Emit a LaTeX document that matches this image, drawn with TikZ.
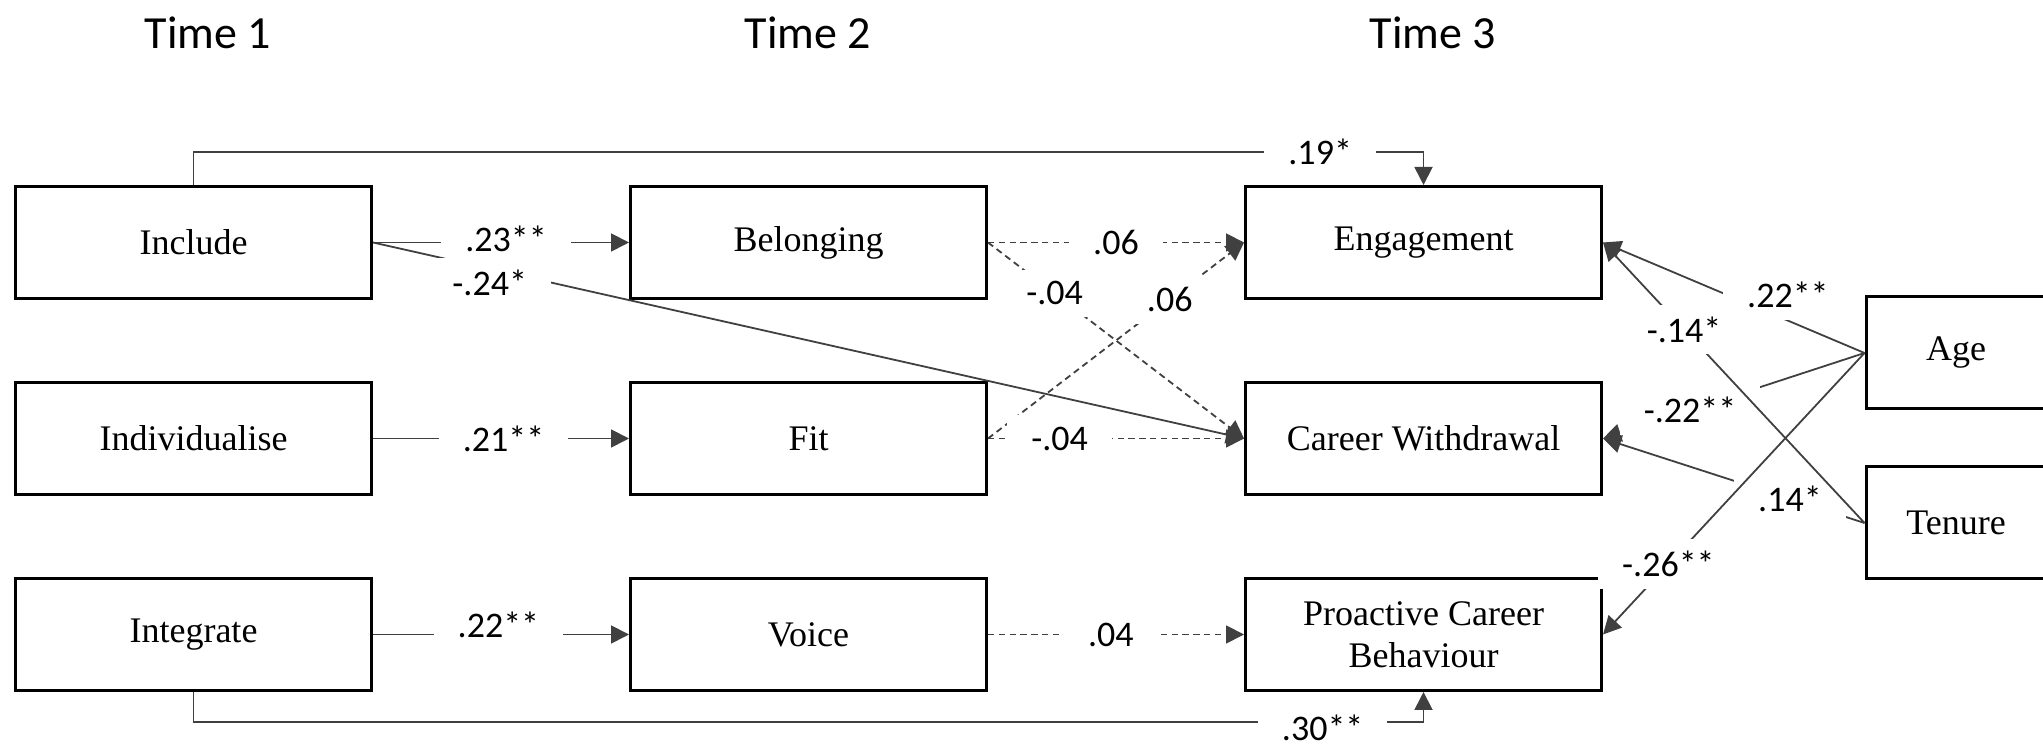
\documentclass[tikz,border=0pt]{standalone}
\usepackage{fontspec}
\setmainfont{Liberation Serif}
\newfontfamily\lblfont{Carlito}
\usetikzlibrary{arrows.meta}

\begin{document}
\begin{tikzpicture}[x=0.25pt,y=-0.25pt,>={Triangle[length=4.5pt,width=4.5pt]},node distance=153.75pt,
  var/.style={draw,line width=0.75pt,minimum width=89pt,minimum height=28pt,inner sep=0pt,align=center,font=\fontsize{9}{10.4}\selectfont},
  ctrl/.style={var,minimum width=45pt},
  timelbl/.style={font=\lblfont\fontsize{11.5}{13}\selectfont},
  lbl/.style={fill=white,inner xsep=6pt,inner ysep=3pt,font=\lblfont\fontsize{9}{10}\selectfont},
  sig/.style={->,draw=black!75,line width=0.45pt},
  ns/.style={sig,dash pattern=on 1.6pt off 1.1pt}]

\useasboundingbox (0,0) rectangle (2043,745);

% define the time points
  \node[timelbl] (time1) at (208,33)  {Time 1};
  \node[timelbl] (time2) at (808,33)  {Time 2};
  \node[timelbl] (time3) at (1433,33) {Time 3};

% define the variables
  \node[var]     (inc) at (193.5,242.5) {Include};
  \node[var]     (bel) [right of=inc]   {Belonging};
  \node[var]     (eng) [right of=bel]   {Engagement};
  \node[var,node distance=49pt] (ind) [below of=inc] {Individualise};
  \node[var]     (fit) [right of=ind]   {Fit};
  \node[var]     (cw)  [right of=fit]   {Career Withdrawal};
  \node[var,node distance=49pt] (int) [below of=ind] {Integrate};
  \node[var]     (voi) [right of=int]   {Voice};
  \node[var]     (pcb) [right of=voi]   {Proactive Career\\Behaviour};
  \node[ctrl]    (age) at (1956,353)    {Age};
  \node[ctrl,node distance=42.5pt] (ten) [below of=age] {Tenure};

% define the links
  \draw[sig] (inc.north) -- ++(0,-33) -| node[lbl,pos=0.458] {.19*} (eng.north);
  \draw[sig] (int.south) -- ++(0,30) -| node[lbl,pos=0.459,yshift=-1.5pt] {.30**} (pcb.south);

  \path (inc.east) edge[sig] node[lbl,pos=0.52,yshift=1pt] {.23**} (bel.west)
                   edge[sig] node[lbl,pos=0.134,yshift=-3.5pt] {-.24*} (cw.west)
        (ind.east) edge[sig] node[lbl,pos=0.51] {.21**} (fit.west)
        (int.east) edge[sig] node[lbl,pos=0.49,yshift=2.5pt] {.22**} (voi.west);

  \path (bel.east) edge[ns] node[lbl,pos=0.5] {.06} (eng.west)
                   edge[ns] node[lbl,pos=0.26] {-.04} (cw.west)
        (fit.east) edge[ns] node[lbl,pos=0.71] {.06} (eng.west)
                   edge[ns] node[lbl,pos=0.28] {-.04} (cw.west)
        (voi.east) edge[ns] node[lbl,pos=0.48] {.04} (pcb.west);

  \path (age.west) edge[sig] node[lbl,pos=0.377,xshift=5.5pt,yshift=4pt] {.22**} (eng.east)
                   edge[sig] node[lbl,pos=0.667] {-.22**} (cw.east)
        (ten.west) edge[sig] node[lbl,pos=0.285,inner ysep=2pt] {.14*} (cw.east)
        (age.west) edge[sig] node[lbl,pos=0.75] {-.26**} (pcb.east)
        (ten.west) edge[sig] node[lbl,pos=0.69] {-.14*} (eng.east);

\end{tikzpicture}
\end{document}
